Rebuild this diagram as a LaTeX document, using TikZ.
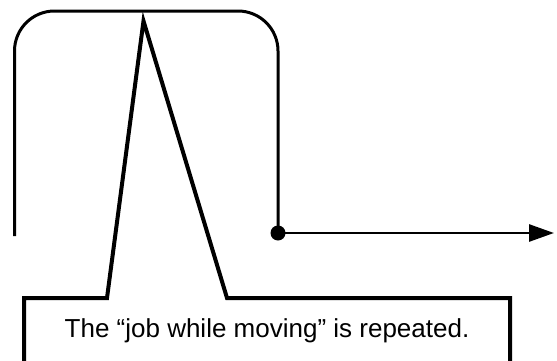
\documentclass[tikz,border=0pt]{standalone}
\usepackage{fontspec}
\setmainfont{Liberation Sans}
\usepackage{tikz}
\usetikzlibrary{calc,positioning,arrows.meta}

\begin{document}
\begin{tikzpicture}[x=1pt, y=1pt,
        track/.style={line width=3pt, rounded corners=40pt},
        callout/.style={line width=4pt, fill=white, miter limit=10},
        flow/.style={line width=2.8pt, -{Triangle[length=25pt, width=17pt]}}]
        \useasboundingbox (0,0) rectangle (557,360);

        % Rounded track and the outgoing arrow
        \coordinate (trackin) at (14.5,124);
        \coordinate (trackout) at (278,127);
        \coordinate (arrowend) at (554,127);
        \draw[track] (trackin) -- (14.5,349) -- (278,349) -- (trackout);
        \fill (trackout) circle (7.5pt);
        \draw[flow] (trackout) -- (arrowend);

        % Callout with its pointer
        \coordinate (apex) at (143.5,339);
        \begin{scope}
            \clip (0,0) rectangle (557,360);
            \draw[callout] (24,-10) -- (24,62) -- (107,62) -- (apex)
                -- (227,62) -- (510,62) -- (510,-10);
        \end{scope}
        \node[anchor=base] (note) at (267,23)
            {\fontsize{26}{31}\selectfont The “job while moving” is repeated.};
\end{tikzpicture}
\end{document}
